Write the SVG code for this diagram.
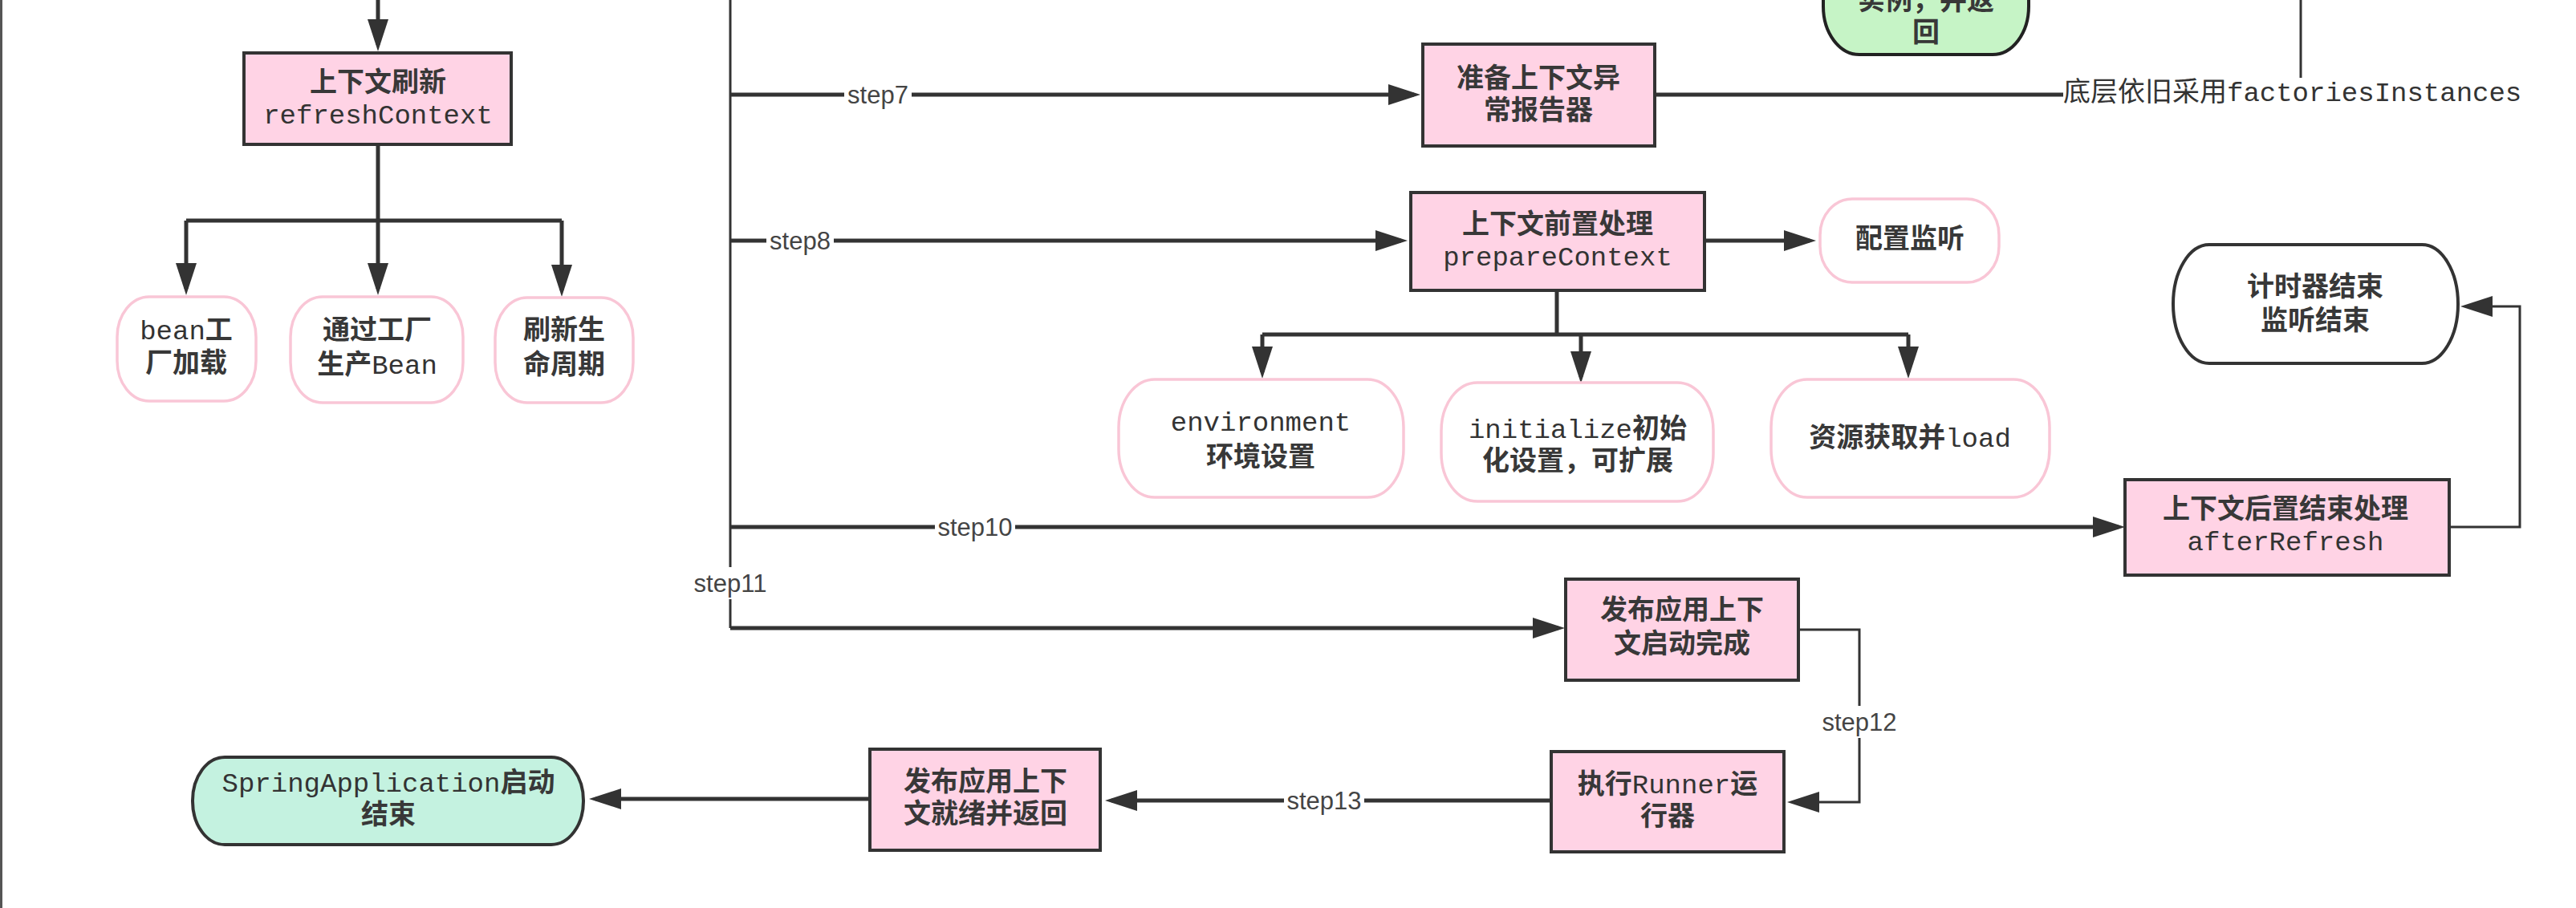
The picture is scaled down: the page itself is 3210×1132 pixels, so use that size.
<svg xmlns="http://www.w3.org/2000/svg" width="3210" height="1132" viewBox="0 0 3210 1132">
<style>
.bg{fill:#ffffff}
.box{fill:#ffd3e5;stroke:#333;stroke-width:4}
.bub{fill:#ffffff;stroke:#f9c6d6;stroke-width:3.5}
.term{fill:#ffffff;stroke:#333;stroke-width:4}
.green{fill:#c6f4c6;stroke:#222;stroke-width:4}
.mint{fill:#c4f2e0;stroke:#333;stroke-width:4}
.t{font-family:"Liberation Mono","Noto Sans CJK SC",monospace;font-size:34px;font-weight:700;fill:#383838;text-anchor:middle;dominant-baseline:central}
.lat{font-weight:400;fill:#333}
.ts{font-family:"Liberation Mono","Noto Sans CJK SC",monospace;font-size:34px;font-weight:400;fill:#333;dominant-baseline:central}
.s{font-family:"Liberation Sans",Arial,sans-serif;font-size:31px;fill:#444;text-anchor:middle;dominant-baseline:central}
.c{fill:none;stroke:#333;stroke-width:5}
.cn{fill:none;stroke:#333;stroke-width:3}
.lb{fill:#ffffff}
</style>
<defs>
<marker id="ah" markerUnits="userSpaceOnUse" markerWidth="40" markerHeight="26" refX="32" refY="13" orient="auto">
<path d="M0,0 L40,13 L0,26 z" fill="#333"/>
</marker>
</defs>
<rect class="bg" x="0" y="0" width="3210" height="1132"/>
<line x1="1.5" y1="0" x2="1.5" y2="1132" stroke="#555" stroke-width="3"/>

<g id="connectors">
<path class="c" d="M471,0 V56" marker-end="url(#ah)"/>
<path class="c" d="M471,180 V275"/>
<path class="c" d="M232,275 H700"/>
<path class="c" d="M232,275 V360" marker-end="url(#ah)"/>
<path class="c" d="M471,275 V360" marker-end="url(#ah)"/>
<path class="c" d="M700,275 V362" marker-end="url(#ah)"/>

<path class="cn" d="M910,0 V783"/>
<path class="c" d="M910,783 H1942" marker-end="url(#ah)"/>
<path class="c" d="M910,118 H1762" marker-end="url(#ah)"/>
<path class="c" d="M910,300 H1746" marker-end="url(#ah)"/>
<path class="c" d="M910,657 H2640" marker-end="url(#ah)"/>

<path class="c" d="M2062,118 H2571"/>
<path class="cn" d="M2867,97 V0"/>

<path class="c" d="M2124,300 H2255" marker-end="url(#ah)"/>
<path class="c" d="M1940,362 V417"/>
<path class="c" d="M1573,417 H2378"/>
<path class="c" d="M1573,417 V464" marker-end="url(#ah)"/>
<path class="c" d="M1970,417 V470" marker-end="url(#ah)"/>
<path class="c" d="M2378,417 V464" marker-end="url(#ah)"/>

<path class="cn" d="M3052,657 H3140 V382 H3074" marker-end="url(#ah)"/>
<path class="cn" d="M2241,785 H2317 V1000 H2235" marker-end="url(#ah)"/>
<path class="c" d="M1933,998 H1385" marker-end="url(#ah)"/>
<path class="c" d="M1084,996 H742" marker-end="url(#ah)"/>

<rect class="lb" x="1052" y="100" width="84" height="36"/>
<text class="s" x="1094" y="118">step7</text>
<rect class="lb" x="955" y="282" width="84" height="36"/>
<text class="s" x="997" y="300">step8</text>
<rect class="lb" x="1165" y="639" width="100" height="36"/>
<text class="s" x="1215" y="657">step10</text>
<rect class="lb" x="860" y="707" width="100" height="40"/>
<text class="s" x="910" y="727">step11</text>
<rect class="lb" x="2267" y="880" width="100" height="40"/>
<text class="s" x="2317" y="900">step12</text>
<rect class="lb" x="1600" y="980" width="100" height="36"/>
<text class="s" x="1650" y="998">step13</text>
<text class="ts" x="2571" y="117">底层依旧采用factoriesInstances</text>
</g>

<g id="n_green">
<rect class="green" x="2272" y="-80" width="256" height="148" rx="45" ry="60"/>
<text class="t" x="2400" y="3">实例，并返</text>
<text class="t" x="2400" y="43">回</text>
</g>

<g id="n_refresh">
<rect class="box" x="304" y="66" width="333" height="114"/>
<text class="t" x="471" y="105">上下文刷新</text>
<text class="t lat" x="471" y="145">refreshContext</text>
</g>
<g id="n_bean">
<rect class="bub" x="146" y="370" width="173" height="130" rx="40" ry="50"/>
<text class="t" x="232" y="414"><tspan class="lat">bean</tspan>工</text>
<text class="t" x="232" y="455">厂加载</text>
</g>
<g id="n_create">
<rect class="bub" x="362" y="370" width="215" height="132" rx="40" ry="50"/>
<text class="t" x="470" y="414">通过工厂</text>
<text class="t" x="470" y="457">生产<tspan class="lat">Bean</tspan></text>
</g>
<g id="n_lifecycle">
<rect class="bub" x="617" y="371" width="172" height="131" rx="40" ry="50"/>
<text class="t" x="703" y="414">刷新生</text>
<text class="t" x="703" y="457">命周期</text>
</g>

<g id="n_prepare_err">
<rect class="box" x="1773" y="55" width="289" height="127"/>
<text class="t" x="1917" y="100">准备上下文异</text>
<text class="t" x="1917" y="140">常报告器</text>
</g>
<g id="n_prepare">
<rect class="box" x="1758" y="240" width="366" height="122"/>
<text class="t" x="1941" y="282">上下文前置处理</text>
<text class="t lat" x="1941" y="322">prepareContext</text>
</g>
<g id="n_listen">
<rect class="bub" x="2268" y="248" width="223" height="104" rx="40" ry="45"/>
<text class="t" x="2380" y="300">配置监听</text>
</g>
<g id="n_env">
<rect class="bub" x="1394" y="473" width="355" height="147" rx="45" ry="60"/>
<text class="t lat" x="1571" y="528">environment</text>
<text class="t" x="1571" y="572">环境设置</text>
</g>
<g id="n_init">
<rect class="bub" x="1796" y="477" width="339" height="148" rx="45" ry="60"/>
<text class="t" x="1966" y="537"><tspan class="lat">initialize</tspan>初始</text>
<text class="t" x="1966" y="577">化设置，可扩展</text>
</g>
<g id="n_res">
<rect class="bub" x="2207" y="473" width="347" height="147" rx="45" ry="60"/>
<text class="t" x="2380" y="548">资源获取并<tspan class="lat">load</tspan></text>
</g>

<g id="n_timer">
<rect class="term" x="2708" y="305" width="355" height="148" rx="45" ry="74"/>
<text class="t" x="2885" y="360">计时器结束</text>
<text class="t" x="2885" y="402">监听结束</text>
</g>
<g id="n_after">
<rect class="box" x="2648" y="598" width="404" height="119"/>
<text class="t" x="2848" y="637">上下文后置结束处理</text>
<text class="t lat" x="2848" y="677">afterRefresh</text>
</g>
<g id="n_started">
<rect class="box" x="1951" y="722" width="290" height="126"/>
<text class="t" x="2096" y="763">发布应用上下</text>
<text class="t" x="2096" y="805">文启动完成</text>
</g>
<g id="n_runner">
<rect class="box" x="1933" y="937" width="290" height="125"/>
<text class="t" x="2078" y="980">执行<tspan class="lat">Runner</tspan>运</text>
<text class="t" x="2078" y="1020">行器</text>
</g>
<g id="n_ready">
<rect class="box" x="1084" y="934" width="287" height="126"/>
<text class="t" x="1228" y="977">发布应用上下</text>
<text class="t" x="1228" y="1017">文就绪并返回</text>
</g>
<g id="n_end">
<rect class="mint" x="240" y="944" width="487" height="109" rx="40" ry="54"/>
<text class="t" x="484" y="978"><tspan class="lat">SpringApplication</tspan>启动</text>
<text class="t" x="484" y="1018">结束</text>
</g>
</svg>
